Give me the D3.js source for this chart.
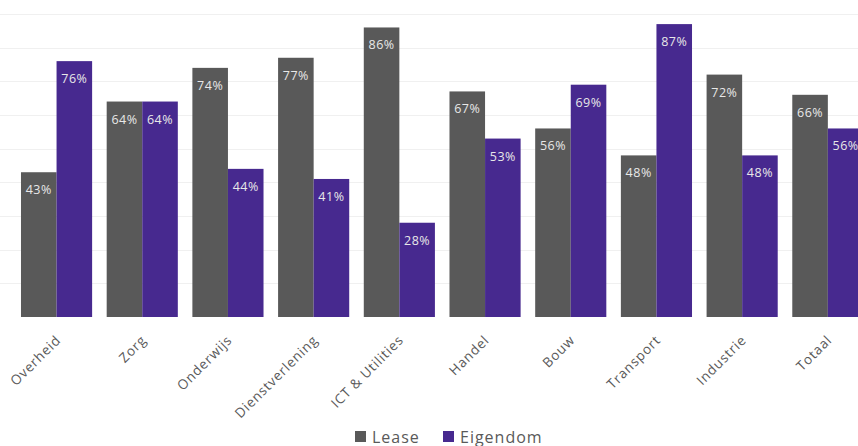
<!DOCTYPE html>
<html>
<head>
<meta charset="utf-8">
<script src="https://cdn.jsdelivr.net/npm/d3@7"></script>
<style>
  html, body { margin: 0; padding: 0; background: #ffffff; }
  svg { display: block; }
</style>
</head>
<body>
<svg id="chart" width="858" height="446"></svg>
<script>
// Share of lease vs. ownership per sector (percent)
const categories = ["Overheid", "Zorg", "Onderwijs", "Dienstverlening", "ICT & Utilities",
                    "Handel", "Bouw", "Transport", "Industrie", "Totaal"];
const leaseValues = [43, 64, 74, 77, 86, 67, 56, 48, 72, 66];
const eigendomValues = [76, 64, 44, 41, 28, 53, 69, 87, 48, 56];
const seriesNames = ["Lease", "Eigendom"];
const gridTicks = [10, 20, 30, 40, 50, 60, 70, 80, 90];

const colors = { Lease: "#595959", Eigendom: "#47298f" };

const svg = d3.select("#chart");
const W = 858, H = 446;

const x = d3.scaleBand()
  .domain(categories)
  .range([13.7, 870.7])
  .paddingInner(0.17)
  .paddingOuter(0.085);

const xs = d3.scaleBand()
  .domain(seriesNames)
  .range([0, x.bandwidth()])
  .padding(0);

const y = d3.scaleLinear()
  .domain([0, 90])
  .range([317, 14]);

// faint horizontal gridlines
svg.append("g")
  .selectAll("line")
  .data(gridTicks)
  .join("line")
  .attr("x1", 0)
  .attr("x2", W)
  .attr("y1", d => Math.round(y(d)) + 0.5)
  .attr("y2", d => Math.round(y(d)) + 0.5)
  .attr("stroke", "#f0f0f0")
  .attr("stroke-width", 1);

const rows = categories.map((c, i) => ({
  cat: c,
  values: [
    { key: "Lease", value: leaseValues[i] },
    { key: "Eigendom", value: eigendomValues[i] }
  ]
}));

const groups = svg.append("g")
  .selectAll("g")
  .data(rows)
  .join("g")
  .attr("transform", d => `translate(${x(d.cat)},0)`);

groups.selectAll("rect")
  .data(d => d.values)
  .join("rect")
  .attr("x", d => xs(d.key))
  .attr("width", xs.bandwidth())
  .attr("y", d => y(d.value))
  .attr("height", d => y(0) - y(d.value))
  .attr("fill", d => colors[d.key]);

groups.selectAll("text")
  .data(d => d.values)
  .join("text")
  .attr("x", d => xs(d.key) + xs.bandwidth() / 2)
  .attr("y", d => y(d.value) + 22)
  .attr("text-anchor", "middle")
  .attr("font-family", "'Open Sans', sans-serif")
  .attr("font-size", 12.5)
  .attr("letter-spacing", 0.5)
  .attr("fill", "#e8e8e8")
  .text(d => d.value + "%");

// rotated category labels
const xAxis = svg.append("g")
  .attr("transform", `translate(0,${y(0)})`)
  .call(d3.axisBottom(x).tickSize(0).tickPadding(0));
xAxis.select(".domain").remove();
xAxis.selectAll("text")
  .attr("font-family", "'Open Sans', sans-serif")
  .attr("font-size", 13.5)
  .attr("letter-spacing", 0.8)
  .attr("fill", "#5a5a5a")
  .attr("text-anchor", "end")
  .attr("dy", null)
  .attr("y", 0)
  .attr("transform", "translate(5,24) rotate(-45)");

// legend
const legend = svg.append("g").attr("transform", "translate(355,431)");
const legendItems = [
  { key: "Lease", x: 0 },
  { key: "Eigendom", x: 88 }
];
const li = legend.selectAll("g")
  .data(legendItems)
  .join("g")
  .attr("transform", d => `translate(${d.x},0)`);
li.append("rect")
  .attr("width", 11)
  .attr("height", 11)
  .attr("fill", d => colors[d.key]);
li.append("text")
  .attr("x", 17)
  .attr("y", 11.5)
  .attr("font-family", "'Open Sans', sans-serif")
  .attr("font-size", 16)
  .attr("letter-spacing", 1)
  .attr("fill", "#595959")
  .text(d => d.key);
</script>
</body>
</html>
